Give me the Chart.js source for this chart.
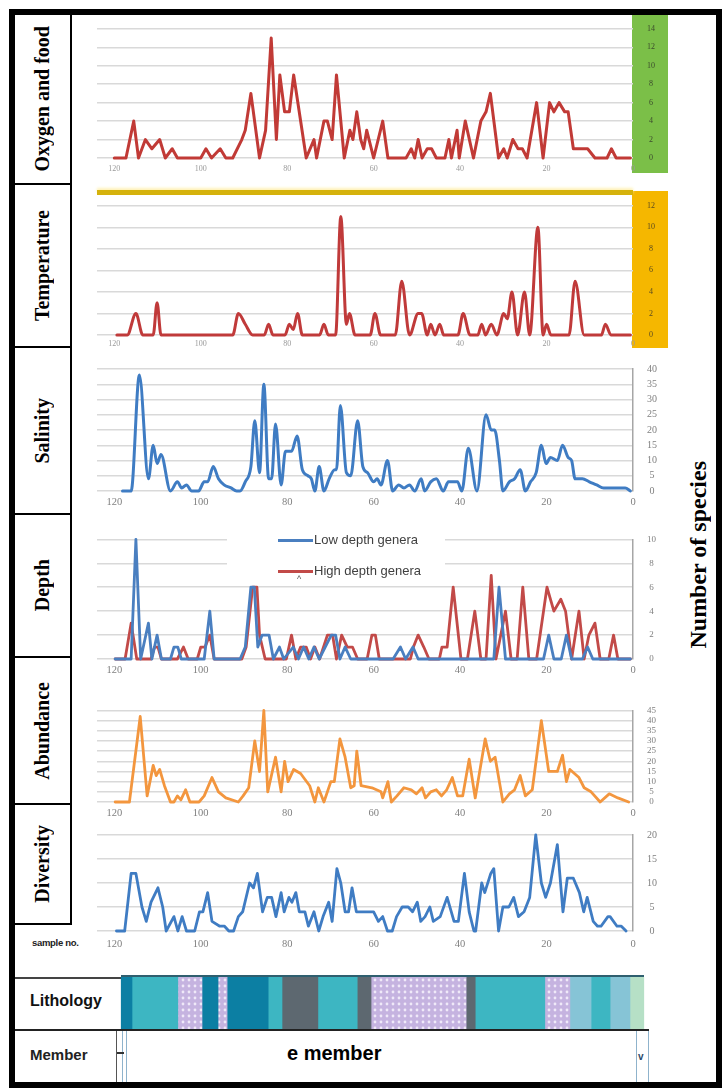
<!DOCTYPE html>
<html><head><meta charset="utf-8">
<script src="https://cdn.jsdelivr.net/npm/chart.js@4.4.1/dist/chart.umd.min.js"></script>
<style>
html,body{margin:0;padding:0;background:#fff;}
body{width:727px;height:1090px;position:relative;overflow:hidden;}
.abs{position:absolute;}
canvas{position:absolute;}
.frame{position:absolute;left:9px;top:9px;width:713px;height:1079px;border:6px solid #000;box-sizing:border-box;}
.lab{position:absolute;left:15px;width:55px;border-right:2px solid #000;border-bottom:2px solid #000;display:flex;align-items:center;justify-content:center;font:bold 20px "Liberation Serif",serif;color:#000;}
.lab span,.vt span{writing-mode:vertical-rl;transform:rotate(180deg);white-space:nowrap;}
.vt{position:absolute;display:flex;align-items:center;justify-content:center;font:bold 24px "Liberation Serif",serif;}
.leg{position:absolute;font:13px "Liberation Sans",sans-serif;color:#404040;white-space:nowrap;}
</style></head>
<body>
<div class="frame"></div>

<div class="lab" style="top:15px;height:168px"><span>Oxygen and food</span></div>
<div class="lab" style="top:185px;height:161px"><span>Temperature</span></div>
<div class="lab" style="top:348px;height:165px"><span>Salinity</span></div>
<div class="lab" style="top:515px;height:141px"><span>Depth</span></div>
<div class="lab" style="top:658px;height:145px"><span>Abundance</span></div>
<div class="lab" style="top:805px;height:118px"><span>Diversity</span></div>

<div class="vt" style="left:680px;top:380px;width:36px;height:350px"><span>Number of species</span></div>

<!-- coloured axis panels -->
<div class="abs" style="left:632px;top:15px;width:36px;height:158px;background:#7bbf48"></div>
<div class="abs" style="left:632px;top:191px;width:36px;height:157px;background:#f5b700"></div>
<div class="abs" style="left:97px;top:190px;width:536px;height:5px;background:#d5b20c;box-shadow:0 -2px 3px #fff2b8"></div>

<div class="abs" style="left:32px;top:937px;font:bold 9.5px 'Liberation Sans',sans-serif;color:#222;letter-spacing:-0.3px">sample no.</div>

<!-- lithology / member rows -->
<div class="abs" style="left:15px;top:977px;width:106px;height:2px;background:#444"></div>
<div class="abs" style="left:121px;top:975px;width:523px;height:2px;background:#2f5f6f"></div>
<div class="abs" style="left:15px;top:1029px;width:634px;height:2px;background:#222"></div>
<div class="abs" style="left:30px;top:992px;font:bold 16px 'Liberation Sans',sans-serif;color:#111">Lithology</div>
<div class="abs" style="left:116px;top:1031px;width:1px;height:51px;background:#555"></div>
<div class="abs" style="left:122px;top:1031px;width:1px;height:51px;background:#8fb3cc"></div>
<div class="abs" style="left:126px;top:1031px;width:1px;height:51px;background:#8fb3cc"></div>
<div class="abs" style="left:636px;top:1031px;width:1px;height:51px;background:#8fb3cc"></div>
<div class="abs" style="left:648px;top:1031px;width:1px;height:51px;background:#8fb3cc"></div>
<div class="abs" style="left:117px;top:1052px;width:7px;height:2px;background:#333"></div>
<div class="abs" style="left:638px;top:1051px;font:bold 10px 'Liberation Sans',sans-serif;color:#2c4a6a">v</div>
<div class="abs" style="left:30px;top:1046px;font:bold 15px 'Liberation Sans',sans-serif;color:#222">Member</div>
<div class="abs" style="left:287px;top:1042px;font:bold 20px 'Liberation Sans',sans-serif;color:#000">e member</div>

<script>
// ---------------- data (sample no., value) ----------------
const xTicks = [0, 20, 40, 60, 80, 100, 120];
const oxygenTicks = [0, 2, 4, 6, 8, 10, 12, 14];
const temperatureTicks = [0, 2, 4, 6, 8, 10, 12];
const salinityTicks = [0, 5, 10, 15, 20, 25, 30, 35, 40];
const depthTicks = [0, 2, 4, 6, 8, 10];
const abundanceTicks = [0, 5, 10, 15, 20, 25, 30, 35, 40, 45];
const diversityTicks = [0, 5, 10, 15, 20];

const oxygenFood = [[120,0],[117.3,0],[115.5,4],[114.4,0],[112.8,2],[111.3,1],[109.5,2],[108.2,0],[106.6,1],[105.4,0],[100,0],[98.8,1],[97.5,0],[95.5,1],[94.2,0],[92.6,0],[90.5,2],[89.7,3],[88.4,7],[86.4,0],[85,3],[83.7,13],[82.5,2],[81.7,9],[80.6,5],[79.5,5],[78.5,9],[75.6,0],[73.8,2],[73.2,0],[71.5,4],[70.7,4],[69.6,2],[68.6,9],[66.8,0],[65.5,3],[64.8,2],[63.9,5],[63,2],[62.3,1],[61.6,3],[60,0],[57.9,4],[56.7,0],[52.5,0],[51.3,1],[50.5,0],[49.7,2],[48.8,0],[47.6,1],[46.6,1],[45.5,0],[43.5,0],[42.6,2],[42,0],[40.7,3],[40.2,0],[38.8,4],[36.9,0],[35.2,4],[34,5],[33,7],[31.1,0],[29.9,1],[29.1,0],[27.8,2],[26.6,1],[25.6,1],[24.5,0],[22.3,6],[20.8,0],[19.3,6],[18.3,5],[17.1,6],[15.8,5],[15,5],[13.8,1],[10.5,1],[8.8,0],[6,0],[5,1],[3.9,0],[0.6,0]];

const temperature = [[119.4,0],[117,0],[115,2],[113.4,0],[111,0],[110.1,3],[109.2,0],[92.6,0],[91.3,2],[89.7,1],[88,0],[85.3,0],[84.3,1],[83.3,0],[80.5,0],[79.5,1],[78.6,0.5],[77.6,2],[76.5,0],[72.5,0],[71.5,1],[70.5,0],[68.8,0],[67.6,11],[66.3,1],[65.6,2],[64.3,0],[60.8,0],[59.7,2],[58.4,0],[55,0],[53.5,5],[51.7,0],[49.7,2],[48.9,2],[47.6,0],[46.8,1],[45.8,0],[44.7,1],[43.8,0],[40.5,0],[39.3,2],[37.7,0],[35.9,0],[35,1],[34.1,0],[32.8,1],[31.5,0],[29.9,2],[29.1,1.5],[28,4],[26.7,0],[25.1,4],[23.9,0],[22,10],[20.8,0],[20,1],[19,0],[14.8,0],[13.4,5],[11.3,0],[7.3,0],[6.4,1],[5.1,0],[0.6,0]];

const salinity = [[118.1,0],[116.1,0],[114.2,38],[112.1,4],[111,15],[110.1,9],[109.2,12],[107,0],[105.4,3],[104.4,1],[103.3,2],[102.1,0],[100.5,0],[99.2,3],[98.4,3],[97.1,8],[95.9,4],[94.6,2],[93,1],[91.7,0],[90.9,0],[89.7,3],[88.4,8],[87.5,23],[86.4,6],[85.4,35],[84.3,4],[83.6,4],[82.7,22],[81.4,2],[80.4,13],[79,13],[77.7,18],[76.5,7],[75.2,5],[74.4,4],[73.6,0],[72.6,8],[71.5,0],[70.3,4],[69,7],[68.6,7],[67.7,28],[66.3,6],[65.3,5],[63.7,23],[62.5,8],[61.4,6],[60,3],[59.2,4],[58.3,2],[56.8,10],[55.6,0],[54.2,2],[53,1],[51.7,2],[50.5,0],[49,4],[48.2,0],[46.8,3],[45.5,4],[43.9,0],[42.7,3],[40.6,3],[39.6,0],[38.1,14],[36.1,0],[34,25],[32.8,20],[32,20],[30.9,10],[30.1,0],[28.6,3],[27.4,4],[26.1,7],[24.9,0],[23.7,3],[22.4,6],[21.2,15],[20.1,9],[19.1,11],[17.5,10],[16.3,15],[15,11],[14.2,10],[13.4,4],[11.7,4],[10.1,3],[8.4,2],[6.8,1],[1.8,1],[0.6,0]];

const lowDepth = [[119.8,0],[116.1,0],[115,10],[113.9,0],[112.1,3],[111.3,0],[110.1,2],[109.1,0],[107,0],[106.2,1],[105.3,1],[104.5,0],[99.2,0],[97.9,4],[96.9,0],[90.9,0],[89.7,1],[88.4,6],[87.6,6],[86.8,1],[85.8,2],[84.2,2],[83.2,0],[81.8,1],[80.8,0],[78.6,1],[77.4,0],[76.2,1],[75,0],[73.8,1],[72.6,0],[69.8,2],[68.8,2],[67.8,0],[66.6,1],[65.3,0],[55.5,0],[53.8,1],[52.6,0],[50.9,1],[49.7,0],[32.2,0],[31,6],[29.5,0],[20.7,0],[19.5,2],[18.3,0],[16.6,0],[15.4,2],[14.2,0],[11.7,0],[10.5,1],[9.3,0],[0.6,0]];

const highDepth = [[119.8,0],[117.5,0],[116.1,3],[114.8,0],[111.5,0],[110.7,1],[109.9,1],[109.1,0],[105.4,0],[104,1],[102.9,0],[100.8,0],[100,1],[99,1],[97.9,2],[96.9,0],[90.5,0],[89.5,1],[88,6],[87,6],[86.4,2],[85.1,0],[80.2,0],[79,2],[78,0],[76.9,1],[75.6,1],[74.6,0],[73.6,1],[72.5,0],[70.7,2],[69.5,2],[68.6,0],[67.4,2],[66.1,1],[64.9,1],[63.7,0],[61.5,0],[60.4,2],[59.6,2],[58.7,0],[51.5,0],[50.8,1],[49.7,2],[48.4,1],[47.2,0],[44.8,0],[44.2,1],[43,1],[41.6,6],[39.8,0],[38.3,0],[36.6,4],[35.2,0],[34,0],[32.8,7],[31.7,0],[29.5,4],[28.2,0],[26.8,0],[25.5,6],[24.1,0],[22.3,0],[19.9,6],[18.3,4],[16.7,5],[15.6,4],[14.2,0],[12.5,4],[11.3,0],[10.2,2],[8.8,3],[7.6,0],[5.6,0],[4.5,2],[3.5,0],[0.6,0]];

const abundance = [[119.8,0],[116.5,0],[114,42],[112.4,3],[111,18],[110.3,13],[109.5,16],[108.4,8],[107,0],[106.2,0],[105.4,3],[104.6,1],[103.5,6],[102.5,0],[100.4,0],[99.2,3],[97.4,12],[95.9,5],[94.2,2],[91.3,0],[90.2,3],[88.9,7],[87.5,30],[86.4,15],[85.4,45],[84.5,5],[82.7,22],[81.4,5],[80.6,20],[79.8,10],[78.5,16],[76.9,14],[74.8,8],[73.6,0],[72.8,7],[71.5,0],[69.9,10],[69.1,10],[67.8,31],[66.6,22],[65.3,7],[64.5,8],[63.9,25],[62.9,8],[60.4,7],[58.3,5],[57.9,2],[56.7,10],[55.9,0],[54.6,3],[53,7],[51.3,6],[50.1,4],[48.8,7],[48,2],[46.8,5],[45.5,6],[44.3,3],[43.1,6],[41.8,12],[40.6,3],[39.4,3],[37.9,21],[36.5,2],[34.2,31],[33,20],[31.9,22],[30.1,0],[28.6,4],[27.4,6],[26.1,13],[24.9,3],[23.3,6],[21.2,40],[19.5,15],[17.5,15],[16.3,23],[15.4,10],[14.6,16],[12.5,12],[11.3,7],[10.5,6],[9.7,5],[7.6,0],[5.5,4],[3.5,2],[1,0]];

const diversity = [[119.5,0],[117.6,0],[116.1,12],[115,12],[113.6,5],[112.6,2],[111.5,6],[109.9,9],[108.8,5],[108,0],[106.2,3],[105.3,0],[104.3,3],[103.3,0],[101.4,0],[100.3,4],[99.5,4],[98.4,8],[97.4,2],[95.6,1],[94.5,1],[93.5,0],[92.4,0],[91.3,3],[90.3,4],[88.7,10],[87.8,9],[86.9,12],[85.7,4],[84.6,7],[83.6,7],[82.6,3],[81.4,8],[80.7,4],[79.6,7],[78.9,6],[78,8],[77.2,4],[75.9,4],[75.1,1],[73.8,4],[72.7,0],[71.7,3],[70.4,6],[69.6,2],[68.5,13],[67.6,10],[66.6,4],[65.8,4],[65,9],[64,4],[61.1,4],[60,4],[58.9,2],[57.9,3],[56.8,0],[55.7,0],[54.7,3],[53.4,5],[52,5],[51,4],[49.9,6],[49.1,2],[48.1,3],[47,5],[46.2,2],[44.6,3],[43,7],[41.4,2],[40.4,2],[39,12],[37.9,4],[36.8,0],[36.4,0],[35,10],[34.3,8],[32.9,12],[32.2,13],[31.1,0],[30.1,5],[28.7,5],[27.6,7],[26.5,3],[25.2,4],[23.9,7],[22.5,20],[21.2,10],[20.2,7],[19.1,10],[17.5,18],[16.2,4],[15.2,11],[13.8,11],[12.4,8],[11.4,4],[10.6,7],[9.2,2],[8.2,1],[7.4,1],[5.8,3],[5.3,3],[3.7,1],[2.7,1],[1.6,0]];

// lithology intervals (sample no. from -> to) and rock type
const lithoFrom = [118.4,115.9,105.3,99.7,96.0,93.9,84.4,81.2,72.9,63.8,60.6,38.6,36.5,20.4,14.6,9.7,5.3,0.7];
const lithoTo   = [115.9,105.3,99.7,96.0,93.9,84.4,81.2,72.9,63.8,60.6,38.6,36.5,20.4,14.6,9.7,5.3,0.7,-2.5];
const lithoType = ['darkTeal','teal','marl','darkTeal','marl','darkTeal','teal','shale','teal','shale','marl','shale','teal','marl','lightBlue','teal','lightBlue','green'];

// ---------------- drawing ----------------
Chart.defaults.font.family = "'Liberation Serif', serif";

const LEFT = 90, WIDTH = 590, PADL = 7, YAXW = 47;

function makeLine(p) {
  const padTop = 8, xh = 22;
  const cv = document.createElement('canvas');
  cv.width = WIDTH;
  cv.height = padTop + (p.bottom - p.top) + xh;
  cv.style.left = LEFT + 'px';
  cv.style.top = (p.top - padTop) + 'px';
  document.body.appendChild(cv);
  new Chart(cv, {
    type: 'line',
    data: { datasets: p.series.map(s => ({
      data: s.pts.map(d => ({ x: d[0], y: d[1] })),
      borderColor: s.color, borderWidth: s.width || 2.8,
      pointRadius: 0, fill: false, clip: false,
      cubicInterpolationMode: s.smooth ? 'monotone' : 'default',
      tension: 0, borderJoinStyle: 'round', borderCapStyle: 'round'
    })) },
    options: {
      responsive: false, animation: false, devicePixelRatio: 1,
      layout: { padding: { left: PADL, top: padTop, right: 0, bottom: 0 } },
      plugins: { legend: { display: false }, tooltip: { enabled: false } },
      scales: {
        x: {
          type: 'linear', reverse: true, min: 0, max: 124,
          afterBuildTicks: s => { s.ticks = xTicks.map(v => ({ value: v })); },
          afterFit: s => { s.height = xh; },
          grid: { display: false, drawTicks: false }, border: { display: false },
          ticks: { padding: p.xPad, color: p.xColor, font: { size: p.xFont }, maxRotation: 0, autoSkip: false }
        },
        y: {
          position: 'right', min: 0, max: p.ticks[p.ticks.length - 1],
          afterBuildTicks: s => { s.ticks = p.ticks.map(v => ({ value: v })); },
          afterFit: s => { s.width = YAXW; },
          grid: { color: '#d9d9d9', lineWidth: 1.5, drawTicks: false },
          border: { display: p.axisLine, color: '#a6a6a6', width: 1.5 },
          ticks: { padding: 14, crossAlign: 'center', color: p.yColor, font: { size: p.yFont }, autoSkip: false }
        }
      }
    }
  });
}

const panels = [
  { series: [{ pts: oxygenFood, color: '#c13a36', width: 3 }], ticks: oxygenTicks, top: 18, bottom: 158,
    xFont: 8, xColor: '#9a9a9a', xPad: 6, yFont: 8, yColor: '#3b4a2c', axisLine: false },
  { series: [{ pts: temperature, color: '#c03a3a', smooth: true, width: 3 }], ticks: temperatureTicks, top: 195, bottom: 335,
    xFont: 8, xColor: '#9a9a9a', xPad: 4, yFont: 8, yColor: '#5a4a20', axisLine: false },
  { series: [{ pts: salinity, color: '#3f7cc3', smooth: true, width: 3 }], ticks: salinityTicks, top: 357, bottom: 491,
    xFont: 10.5, xColor: '#808080', xPad: 5, yFont: 10, yColor: '#808080', axisLine: true },
  { series: [{ pts: lowDepth, color: '#4a7fc0' }, { pts: highDepth, color: '#c24a48' }], ticks: depthTicks, top: 528, bottom: 659,
    xFont: 10.5, xColor: '#808080', xPad: 5, yFont: 9, yColor: '#808080', axisLine: true },
  { series: [{ pts: abundance, color: '#f3963e' }], ticks: abundanceTicks, top: 699, bottom: 802,
    xFont: 10.5, xColor: '#808080', xPad: 5, yFont: 9, yColor: '#808080', axisLine: true },
  { series: [{ pts: diversity, color: '#3f7cc3' }], ticks: diversityTicks, top: 823, bottom: 931,
    xFont: 10.5, xColor: '#808080', xPad: 7, yFont: 10, yColor: '#808080', axisLine: true }
];
panels.forEach(makeLine);

// lithology column as floating horizontal bars
function marlPattern() {
  const t = document.createElement('canvas'); t.width = 6; t.height = 6;
  const g = t.getContext('2d');
  g.fillStyle = '#c5b3e0'; g.fillRect(0, 0, 6, 6);
  g.fillStyle = '#efe9f8'; g.beginPath(); g.arc(3, 3, 1.4, 0, Math.PI * 2); g.fill();
  return g.createPattern(t, 'repeat');
}
const lithoFill = { darkTeal: '#0c7fa3', teal: '#3db6c2', shale: '#5d6870', lightBlue: '#86c4d6', green: '#b6e0c6', marl: marlPattern() };
(function () {
  const cv = document.createElement('canvas');
  cv.width = 600; cv.height = 52;
  cv.style.left = LEFT + 'px'; cv.style.top = '977px';
  document.body.appendChild(cv);
  new Chart(cv, {
    type: 'bar',
    data: { labels: ['Lithology'], datasets: lithoFrom.map((f, i) => ({
      data: [[f, lithoTo[i]]], backgroundColor: lithoFill[lithoType[i]], borderWidth: 0,
      grouped: false, barPercentage: 1, categoryPercentage: 1
    })) },
    options: {
      indexAxis: 'y', responsive: false, animation: false, devicePixelRatio: 1,
      layout: { padding: { left: PADL, right: 600 - 560.3, top: 0, bottom: 0 } },
      plugins: { legend: { display: false }, tooltip: { enabled: false } },
      scales: { x: { type: 'linear', reverse: true, min: -4, max: 124, display: false }, y: { display: false } }
    }
  });
})();
</script>

<!-- depth legend -->
<div class="abs" style="left:227px;top:522px;width:218px;height:54px;background:#fff"></div>
<div class="abs" style="left:278px;top:539px;width:35px;height:3px;background:#4a7fc0"></div>
<div class="leg" style="left:314px;top:532px">Low depth genera</div>
<div class="abs" style="left:278px;top:570px;width:35px;height:3px;background:#c24a48"></div>
<div class="leg" style="left:314px;top:563px">High depth genera</div>
<div class="abs" style="left:297px;top:574px;font:9px 'Liberation Sans',sans-serif;color:#555">^</div>
</body></html>
